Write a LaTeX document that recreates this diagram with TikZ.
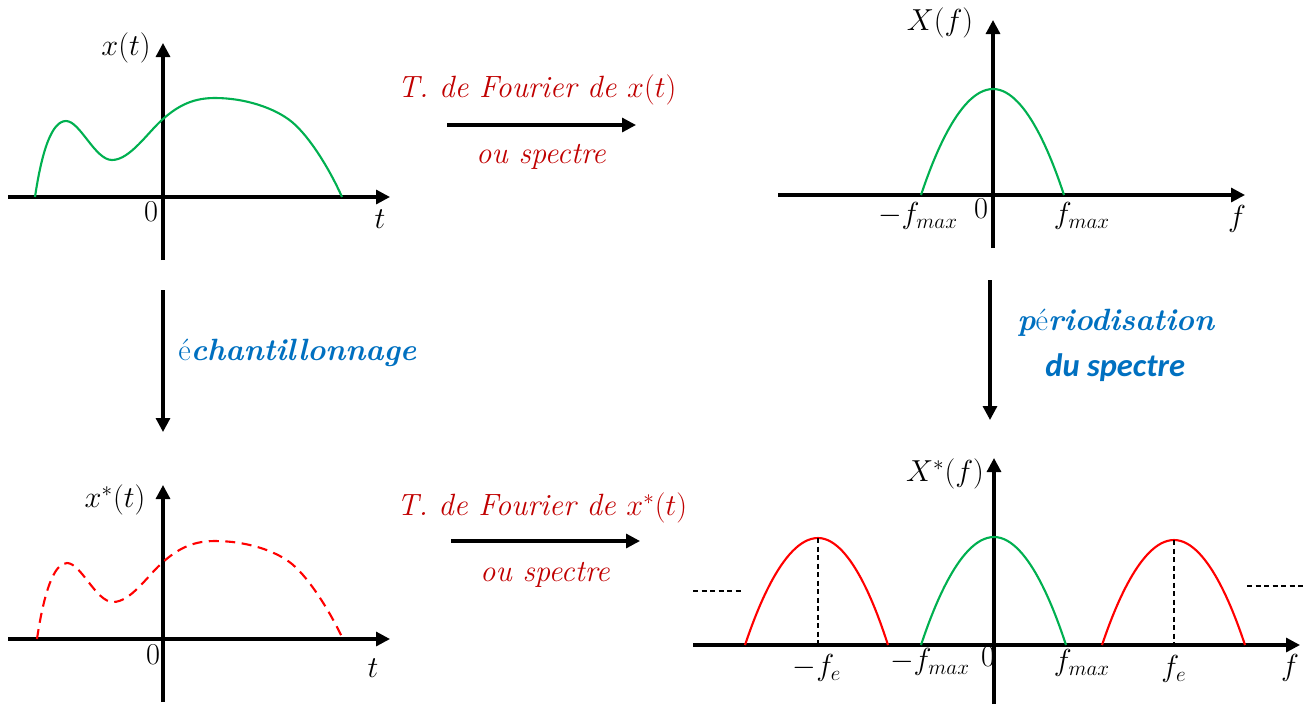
\documentclass[tikz,border=0pt]{standalone}
\usepackage{fontspec}
\newfontfamily\carlito{Carlito}
\usetikzlibrary{arrows.meta}
\definecolor{cgreen}{RGB}{0,176,80}
\definecolor{cred}{RGB}{255,0,0}
\definecolor{dred}{RGB}{192,0,0}
\definecolor{cblue}{RGB}{0,112,192}
\begin{document}
\begin{tikzpicture}[x=0.02cm,y=-0.02cm,
  axis/.style={line width=1.8pt,-{Triangle[length=0.28cm,width=0.28cm]}},
  flow/.style={line width=1.8pt,-{Triangle[length=0.28cm,width=0.28cm]}},
  gsig/.style={line width=1.2pt,cgreen},
  rsig/.style={line width=1.2pt,cred},
  rdash/.style={line width=1.2pt,cred,dash pattern=on 0.2cm off 0.13cm},
  guide/.style={line width=0.8pt,black,dash pattern=on 0.1cm off 0.07cm},
  lbl/.style={font=\fontsize{17.5}{20}\selectfont,inner sep=0pt},
  rlbl/.style={lbl,text=dred},
  blbl/.style={lbl,text=cblue}]
\useasboundingbox (0,0) rectangle (1304,704);

% ---------- top-left: x(t)
\coordinate (tlxa) at (8,197);   \coordinate (tlxb) at (390,197);
\coordinate (tlya) at (163,260); \coordinate (tlyb) at (163,43);
\draw[axis] (tlxa) -- (tlxb);
\draw[axis] (tlya) -- (tlyb);
\draw[gsig] (35,197) .. controls (42,150) and (52,121) .. (66,121)
  .. controls (80,121) and (95,160) .. (112,160)
  .. controls (130,160) and (148,132) .. (163,119)
  .. controls (180,104) and (195,98) .. (215,98)
  .. controls (245,98) and (275,108) .. (292,122)
  .. controls (310,137) and (330,170) .. (342,197);
\node[lbl] (xt) at (126,48) {$x(t)$};
\node[lbl] (tl0) at (151,212) {$0$};
\node[lbl] (tlt) at (380,219) {$t$};

% ---------- top arrow
\coordinate (ta1) at (447,125); \coordinate (ta2) at (636,125);
\draw[flow] (ta1) -- (ta2);
\node[rlbl] (tf1) at (537,90) {\itshape T. de Fourier de $x(t)$};
\node[rlbl] (os1) at (541,157) {\itshape ou spectre};

% ---------- top-right: X(f)
\coordinate (trxa) at (778,195); \coordinate (trxb) at (1245,195);
\coordinate (trya) at (993,248); \coordinate (tryb) at (993,20);
\draw[axis] (trxa) -- (trxb);
\draw[axis] (trya) -- (tryb);
\draw[gsig] (921,195) parabola bend (993,89) (1064,195);
\node[lbl] (Xf) at (940,23) {$X(f)$};
\node[lbl] (trm) at (918,216) {$-f_{max}$};
\node[lbl] (tr0) at (981,209) {$0$};
\node[lbl] (trp) at (1082,216) {$f_{max}$};
\node[lbl] (trf) at (1237,219) {$f$};

% ---------- vertical arrows
\coordinate (la1) at (163,290); \coordinate (la2) at (163,432);
\draw[flow] (la1) -- (la2);
\node[blbl,anchor=west] (ech) at (178,353) {é\textbf{\textit{chantillonnage}}};
\coordinate (ra1) at (990,280); \coordinate (ra2) at (990,420);
\draw[flow] (ra1) -- (ra2);
\node[blbl,anchor=west] (per) at (1017,323) {\textbf{\textit{p}}é\textbf{\textit{riodisation}}};
\node[blbl,anchor=west,font=\fontsize{18.5}{21}\selectfont] (dus) at (1045,368) {\carlito\bfseries\itshape du spectre};

% ---------- bottom-left: x*(t)
\coordinate (blxa) at (8,639);   \coordinate (blxb) at (390,639);
\coordinate (blya) at (163,702); \coordinate (blyb) at (163,485);
\draw[axis] (blxa) -- (blxb);
\draw[axis] (blya) -- (blyb);
\draw[rdash] (37,639) .. controls (44,592) and (54,563) .. (67,563)
  .. controls (81,563) and (96,602) .. (113,602)
  .. controls (131,602) and (148,575) .. (163,562)
  .. controls (180,547) and (195,541) .. (215,541)
  .. controls (245,541) and (275,550) .. (292,564)
  .. controls (310,579) and (330,612) .. (342,637);
\node[lbl] (xst) at (115,500) {$x^{*}(t)$};
\node[lbl] (bl0) at (153,655) {$0$};
\node[lbl] (blt) at (373,668) {$t$};

% ---------- bottom arrow
\coordinate (ba1) at (451,541); \coordinate (ba2) at (640,541);
\draw[flow] (ba1) -- (ba2);
\node[rlbl] (tf2) at (542,508) {\itshape T. de Fourier de $x^{*}(t)$};
\node[rlbl] (os2) at (545,575) {\itshape ou spectre};

% ---------- bottom-right: X*(f)
\coordinate (brxa) at (693,645); \coordinate (brxb) at (1300,645);
\coordinate (brya) at (994,704); \coordinate (bryb) at (994,458);
\draw[axis] (brxa) -- (brxb);
\draw[axis] (brya) -- (bryb);
\draw[rsig] (745,645) parabola bend (818,538) (888,645);
\draw[gsig] (921,645) parabola bend (994,537) (1066,645);
\draw[rsig] (1102,645) parabola bend (1174,540) (1245,645);
\coordinate (pk1) at (818,538); \coordinate (ft1) at (818,645);
\coordinate (pk2) at (1174,540); \coordinate (ft2) at (1174,645);
\draw[guide] (pk1) -- (ft1);
\draw[guide] (pk2) -- (ft2);
\coordinate (dl1) at (693,591); \coordinate (dl2) at (742,591);
\coordinate (dr1) at (1247,586); \coordinate (dr2) at (1304,586);
\draw[guide] (dl1) -- (dl2);
\draw[guide] (dr1) -- (dr2);
\node[lbl] (Xsf) at (945,474) {$X^{*}(f)$};
\node[lbl] (brme) at (817,668) {$-f_{e}$};
\node[lbl] (brm) at (930,662) {$-f_{max}$};
\node[lbl] (br0) at (988,657) {$0$};
\node[lbl] (brp) at (1082,663) {$f_{max}$};
\node[lbl] (brfe) at (1174,669) {$f_{e}$};
\node[lbl] (brf) at (1290,668) {$f$};
\end{tikzpicture}
\end{document}
